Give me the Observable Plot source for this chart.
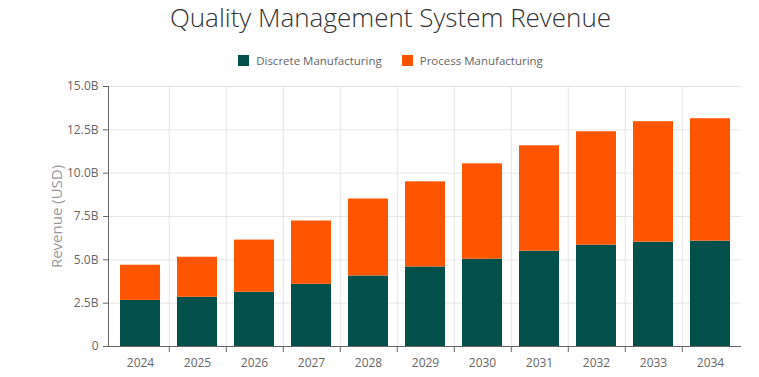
<!DOCTYPE html>
<html>
<head>
<meta charset="utf-8">
<script src="https://cdn.jsdelivr.net/npm/d3@7"></script>
<script src="https://cdn.jsdelivr.net/npm/@observablehq/plot@0.6"></script>
<style>
  html, body { margin: 0; padding: 0; background: #fff; }
  body { width: 759px; height: 377px; overflow: hidden; font-family: "Open Sans", "Noto Sans", sans-serif; }
  #title { height: 44px; line-height: 34px; text-align: center; font-size: 26px; font-weight: 300; color: #333; padding-left: 22px; }
  #legend { height: 32px; display: flex; justify-content: center; align-items: center; gap: 20px; font-size: 11.5px; color: #666; padding-left: 22px; margin-top: 0; }
  .item { display: flex; align-items: center; gap: 7px; }
  .sw { width: 11px; height: 11px; display: inline-block; }
</style>
</head>
<body>
<div id="title">Quality Management System Revenue</div>
<div id="legend"></div>
<div id="chart"></div>
<script>
const years = ["2024","2025","2026","2027","2028","2029","2030","2031","2032","2033","2034"];
const discrete = [2.66, 2.84, 3.13, 3.59, 4.07, 4.59, 5.04, 5.50, 5.85, 6.02, 6.08];
const process  = [2.03, 2.31, 3.01, 3.65, 4.44, 4.91, 5.50, 6.08, 6.54, 6.95, 7.06];
const seriesNames = ["Discrete Manufacturing", "Process Manufacturing"];
const seriesColors = ["#03504b", "#ff5500"];
const yTicks = [0, 2.5, 5, 7.5, 10, 12.5, 15];

const legend = document.getElementById("legend");
seriesNames.forEach((n, i) => {
  const it = document.createElement("div");
  it.className = "item";
  it.innerHTML = `<span class="sw" style="background:${seriesColors[i]}"></span><span>${n}</span>`;
  legend.appendChild(it);
});

const rows = [];
years.forEach((y, i) => {
  rows.push({year: y, series: seriesNames[0], value: discrete[i]});
  rows.push({year: y, series: seriesNames[1], value: process[i]});
});

const W = 759, H = 301, mL = 108, mR = 18, mT = 10, mB = 31;
const step = (W - mL - mR) / years.length;
const boundaries = years.slice(0, -1);

const chart = Plot.plot({
  width: W, height: H,
  marginLeft: mL, marginRight: mR, marginTop: mT, marginBottom: mB,
  style: { fontFamily: "'Open Sans', 'Noto Sans', sans-serif", fontSize: "12px", color: "#666", background: "#fff" },
  x: { domain: years, paddingInner: 0.3, paddingOuter: 0.15, label: null },
  y: { domain: [0, 15], label: null },
  color: { domain: seriesNames, range: seriesColors },
  marks: [
    Plot.ruleY(yTicks, { stroke: "#e6e6e6", strokeWidth: 1 }),
    Plot.ruleX(boundaries, { x: d => d, dx: step / 2, stroke: "#e6e6e6", strokeWidth: 1 }),
    Plot.barY(rows, Plot.stackY({ x: "year", y: "value", fill: "series", order: seriesNames })),
    Plot.ruleX(boundaries, { x: d => d, dx: step / 2, y1: 0, y2: 0, insetTop: 0, insetBottom: -6, stroke: "#666" }),
    Plot.ruleY([0], { stroke: "#666" }),
    Plot.axisX({ tickSize: 0, tickPadding: 12, fill: "#666", fontSize: 12, label: null }),
    Plot.axisY({ ticks: yTicks, tickSize: 5, tickPadding: 5, stroke: "#666", fill: "#666", fontSize: 12,
      tickFormat: d => d === 0 ? "0" : d.toFixed(1) + "B",
      label: "Revenue (USD)", labelAnchor: "center", labelArrow: "none", labelOffset: 57 }),
    Plot.frame({ anchor: "left", stroke: "#666" })
  ]
});
document.getElementById("chart").appendChild(chart);
chart.querySelectorAll("text").forEach(t => {
  if (t.textContent === "Revenue (USD)") { t.setAttribute("fill", "#999"); t.style.fontSize = "15px"; }
});
</script>
</body>
</html>
